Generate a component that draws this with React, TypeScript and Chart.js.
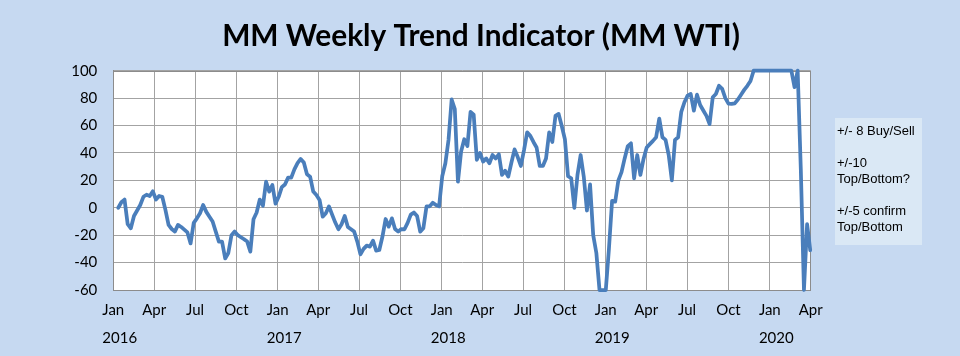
import React, { useEffect, useRef } from "react";
import { Chart, registerables } from "chart.js";

Chart.register(...registerables);

const TITLE = "MM Weekly Trend Indicator (MM WTI)";

// Weekly readings (Tuesdays), first one on 2016-01-12
const FIRST_WEEK = "2016-01-12";
const WTI_VALUES = [
  0, 4, 6, -12, -15, -6, -2, 2, 8, 9.5,
  8.6, 12, 6, 8.6, 8, -1.5, -12.5, -15.5, -17.4, -12.5,
  -14, -16, -18, -26, -11, -7.7, -4, 2, -3, -6.5,
  -10, -17.4, -24.7, -24.7, -37, -33, -20, -17.4, -20, -21.5,
  -23, -24.7, -32, -8.4, -3.5, 6, 1.5, 19, 11.8, 16.6,
  3, 8, 15, 17, 22, 22, 28, 32.5, 35.6, 33,
  24.4, 22.7, 11.8, 9.3, 5.7, -6.5, -4, 1, -5, -10.8,
  -15.7, -12, -6, -14, -15.7, -17.4, -24.7, -34, -30, -27.6,
  -28.4, -24, -31.3, -30.8, -21, -8.2, -13.8, -7.7, -15.5, -17.4,
  -15.5, -15.7, -11, -5, -3.5, -6, -17.4, -15, 1, 1,
  3.7, 2, 1, 23, 32.5, 49.5, 79, 72, 19, 41,
  50, 45, 70, 68, 35, 40, 33.7, 36, 32.5, 38.5,
  36, 39, 24, 27, 22.7, 33, 42.6, 37, 30.5, 42,
  55, 52.5, 48, 44, 30.5, 30.5, 36, 55, 48, 67,
  68.5, 59.6, 50, 23, 21.5, 0, 24, 38.5, 22.7, -2,
  17, -20, -33, -60, -60, -60, -30, 5, 4.5, 20,
  26, 36, 45, 47, 21.5, 38.5, 24, 35.6, 44, 46.4,
  48.8, 51.4, 65, 51.4, 49.5, 38.5, 20, 49.5, 51.4, 70,
  77, 81.8, 83, 70.8, 82.5, 75, 71, 67, 61, 80.6,
  83, 89, 86.7, 80, 76, 75.8, 76.2, 79, 82.5, 86,
  89, 92.5, 100, 100, 100, 100, 100, 100, 100, 100,
  100, 100, 100, 100, 100, 88, 100, 28, -60, -12,
  -31,
];

const AXIS_START = "2016-01-01";
const AXIS_END = "2020-04-01";
const TICK_DATES = [
  "2016-01-01", "2016-04-01", "2016-07-01", "2016-10-01",
  "2017-01-01", "2017-04-01", "2017-07-01", "2017-10-01",
  "2018-01-01", "2018-04-01", "2018-07-01", "2018-10-01",
  "2019-01-01", "2019-04-01", "2019-07-01", "2019-10-01",
  "2020-01-01", "2020-04-01",
];
const MONTH_LABELS = [
  "Jan", "Apr", "Jul", "Oct", "Jan", "Apr", "Jul", "Oct", "Jan",
  "Apr", "Jul", "Oct", "Jan", "Apr", "Jul", "Oct", "Jan", "Apr",
];
const YEAR_LABELS = [
  "2016", "", "", "", "2017", "", "", "", "2018",
  "", "", "", "2019", "", "", "", "2020", "",
];

const Y_MIN = -60;
const Y_MAX = 100;
const Y_STEP = 20;

const NOTE_LINES = ["+/- 8 Buy/Sell", "", "+/-10", "Top/Bottom?", "", "+/-5 confirm", "Top/Bottom"];

const FONT = "Lato, 'Open Sans', sans-serif";
const BG = "#c6d9f1";
const GRID = "#a3a3a3";
const LINE = "#4a7ebb";

function dayOf(s: string): number {
  const [y, m, d] = s.split("-").map(Number);
  const [y0, m0, d0] = AXIS_START.split("-").map(Number);
  return (Date.UTC(y, m - 1, d) - Date.UTC(y0, m0 - 1, d0)) / 86400000;
}

const TICK_VALUES = TICK_DATES.map(dayOf);

export default function App() {
  const ref = useRef<HTMLCanvasElement | null>(null);

  useEffect(() => {
    const canvas = ref.current;
    if (!canvas) return;
    const start = dayOf(FIRST_WEEK);
    const points = WTI_VALUES.map((v, i) => ({ x: start + 7 * i, y: v }));

    const decor = {
      id: "decor",
      beforeDraw(chart: any) {
        const { ctx, chartArea: a } = chart;
        ctx.save();
        ctx.fillStyle = BG;
        ctx.fillRect(0, 0, chart.width, chart.height);
        ctx.fillStyle = "#ffffff";
        ctx.fillRect(a.left, a.top, a.right - a.left, a.bottom - a.top);
        ctx.restore();
      },
      beforeDatasetsDraw(chart: any) {
        const { ctx, chartArea: a } = chart;
        ctx.save();
        ctx.strokeStyle = "#8c8c8c";
        ctx.lineWidth = 1;
        ctx.strokeRect(Math.round(a.left) + 0.5, Math.round(a.top) + 0.5, Math.round(a.right - a.left), Math.round(a.bottom - a.top));
        ctx.restore();
      },
      afterDraw(chart: any) {
        const { ctx } = chart;
        ctx.save();
        // Title
        let size = 28;
        ctx.font = `bold ${size}px ${FONT}`;
        const w = ctx.measureText(TITLE).width;
        size = size * 518 / w;
        ctx.font = `bold ${size}px ${FONT}`;
        ctx.fillStyle = "#000";
        ctx.textAlign = "center";
        ctx.textBaseline = "alphabetic";
        ctx.fillText(TITLE, 481, 46);

        // Year labels, left-aligned with month labels
        const xs = chart.scales.x;
        ctx.font = `15px ${FONT}`;
        ctx.textAlign = "left";
        ctx.textBaseline = "middle";
        TICK_VALUES.forEach((v, i) => {
          if (!YEAR_LABELS[i]) return;
          const px = xs.getPixelForValue(v);
          const mw = ctx.measureText(MONTH_LABELS[i]).width;
          ctx.fillText(YEAR_LABELS[i], px - mw / 2, 338);
        });

        // Note box
        ctx.fillStyle = "#dae8f5";
        ctx.fillRect(835, 118, 87, 127);
        ctx.fillStyle = "#000";
        ctx.font = "13px 'Liberation Sans', Arial, sans-serif";
        ctx.textAlign = "left";
        ctx.textBaseline = "alphabetic";
        NOTE_LINES.forEach((t, i) => {
          if (t) ctx.fillText(t, 837, 135 + i * 16);
        });
        ctx.restore();
      },
    };

    const chart = new Chart(canvas, {
      type: "line",
      data: {
        datasets: [
          {
            data: points,
            borderColor: LINE,
            borderWidth: 3.75,
            pointRadius: 0,
            tension: 0,
            borderJoinStyle: "round",
            borderCapStyle: "round",
            clip: false as any,
          },
        ],
      },
      options: {
        animation: false,
        responsive: false,
        devicePixelRatio: 1,
        layout: { padding: { left: 0, right: 149.3, top: 70.7, bottom: 0 } },
        plugins: { legend: { display: false }, tooltip: { enabled: false }, title: { display: false } },
        scales: {
          x: {
            type: "linear",
            min: dayOf(AXIS_START),
            max: dayOf(AXIS_END),
            afterBuildTicks(scale: any) {
              scale.ticks = TICK_VALUES.map((v) => ({ value: v }));
            },
            afterFit(scale: any) {
              scale.height = 66;
            },
            ticks: {
              autoSkip: false,
              maxRotation: 0,
              padding: 11,
              color: "#000",
              font: { family: FONT, size: 15 },
              callback(value: any) {
                const idx = TICK_VALUES.indexOf(Number(value));
                return idx >= 0 ? MONTH_LABELS[idx] : "";
              },
            },
            grid: { color: GRID, lineWidth: 1, drawTicks: false },
            border: { display: true, color: "#8c8c8c" },
          },
          y: {
            type: "linear",
            min: Y_MIN,
            max: Y_MAX,
            afterFit(scale: any) {
              scale.width = 113.3;
            },
            ticks: {
              stepSize: Y_STEP,
              padding: 16,
              color: "#000",
              font: { family: FONT, size: 15 },
            },
            grid: { color: GRID, lineWidth: 1, drawTicks: false },
            border: { display: true, color: "#8c8c8c" },
          },
        },
      },
      plugins: [decor],
    } as any);

    return () => chart.destroy();
  }, []);

  return (
    <div style={{ position: "absolute", left: 0, top: 0, width: 960, height: 356 }}>
      <canvas ref={ref} width={960} height={356} style={{ display: "block", width: 960, height: 356 }} />
    </div>
  );
}
